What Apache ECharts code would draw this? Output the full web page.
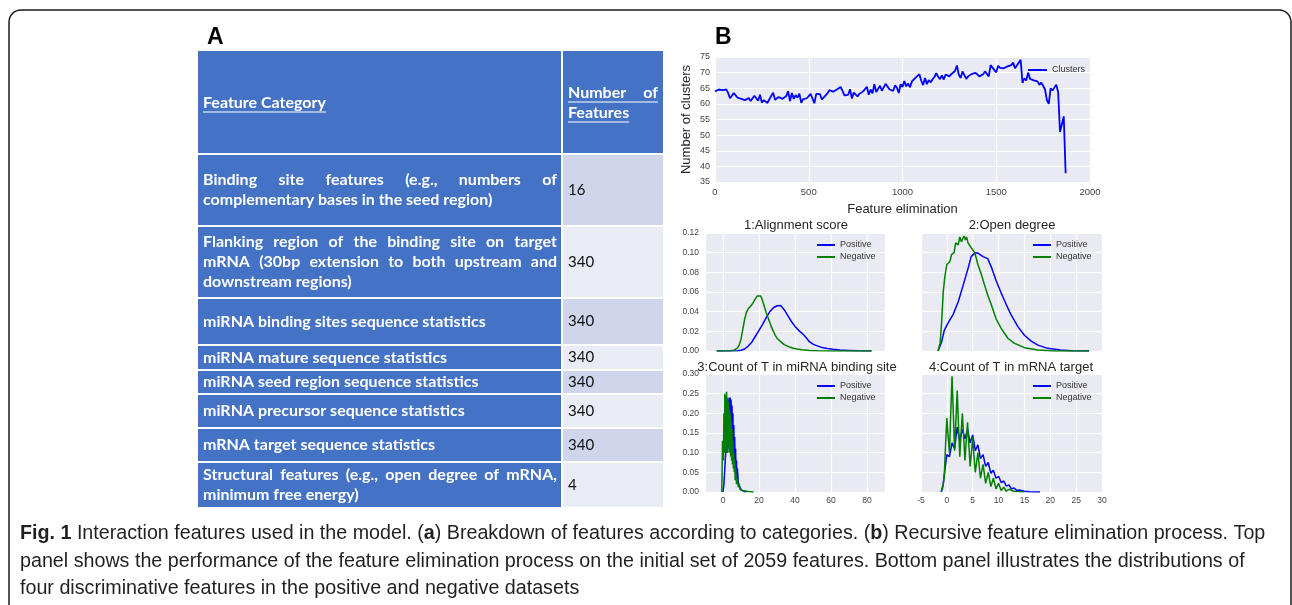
<!DOCTYPE html>
<html><head><meta charset="utf-8">
<script src="https://cdn.jsdelivr.net/npm/echarts@6/dist/echarts.min.js"></script>
<style>html,body{margin:0;padding:0;background:#fff}#c{width:1292px;height:605px}</style>
</head><body><div id="c"></div>
<script>
// ---------------- DATA ----------------
const headerCategory = 'Feature Category';
const headerCount = ['Number of', 'Features'];
const categoryLines = [
  ['Binding site features (e.g., numbers of', 'complementary bases in the seed region)'],
  ['Flanking region of the binding site on target', 'mRNA (30bp extension to both upstream and', 'downstream regions)'],
  ['miRNA binding sites sequence statistics'],
  ['miRNA mature sequence statistics'],
  ['miRNA seed region sequence statistics'],
  ['miRNA precursor sequence statistics'],
  ['mRNA target sequence statistics'],
  ['Structural features (e.g., open degree of mRNA,', 'minimum free energy)']
];
const justifiedLines = [[true, false], [true, true, false], [false], [false], [false], [false], [false], [true, false]];
const featureCounts = [16, 340, 340, 340, 340, 340, 340, 4];

// Top panel: number of clusters, one value every 10 eliminated features starting at 0
const clusterStep = 10;
const clusterValues = [
  64, 63.8, 64.6, 65, 64.4, 64.3, 64.6, 63.5, 61.8, 62.6,
  63.5, 64, 62, 61.8, 61.6, 61.3, 61.2, 61, 61.9, 60.9,
  60.6, 62.6, 62.2, 61, 62.9, 60.4, 61.2, 61.8, 60.3, 61.5,
  62, 63.6, 61.3, 61.6, 62.2, 62.8, 61.6, 61.2, 62.5, 64.1,
  60.9, 63.5, 61.6, 62.8, 62, 63.3, 60.3, 61.5, 61.2, 61.8,
  62.5, 63.2, 62.8, 60.2, 63.2, 62.9, 63.1, 61.4, 62, 62.7,
  63.4, 64.4, 64.2, 63.9, 64.3, 64.6, 64, 65.4, 64.2, 62.7,
  63.3, 62.9, 64.7, 61.7, 63.6, 63.3, 62.4, 63.2, 63.8, 64,
  64.1, 65.5, 62.9, 64.6, 63.4, 66.3, 63.8, 64.1, 65.8, 64.2,
  64.6, 66.4, 65.8, 64.7, 65.3, 64.1, 65.9, 65.2, 63.5, 66.3,
  65.4, 67.3, 65.6, 66.5, 65.3, 67.2, 66.8, 68.4, 68, 69.5,
  67.4, 66, 68.3, 66.3, 67.6, 66.9, 67.8, 68.6, 69.8, 68.7,
  67.9, 69.1, 67.8, 69.4, 70, 68.8, 69.5, 69.2, 70.5, 72.3,
  69.4, 68.3, 70.4, 69.8, 68, 68.8, 68.4, 69.6, 69.2, 69.9,
  69.5, 68.8, 68.9, 69.5, 70.4, 69.9, 68.8, 72.4, 72.3, 70.8,
  70.1, 72.2, 71.5, 71.8, 71.4, 71.2, 72, 72.1, 72.4, 73.2,
  71.4, 72.3, 72.1, 74.1, 66.7, 68.2, 67.5, 70, 68, 67.4,
  67.5, 67.3, 67.2, 66.1, 66.8, 65.8, 64.6, 61.2, 60, 65,
  64.3, 65.2, 66.1, 63.8, 51, 53.5, 56, 37.8
];

// 1: Alignment score densities [x, density]
const alignPositive = [[-3.5,0],[8,0.0002],[10,0.0008],[12,0.002],[14,0.005],[16,0.009],[18,0.015],[20,0.021],[22,0.027],[24,0.034],[26,0.04],[28,0.044],[30,0.046],[32,0.0462],[33,0.045],[34,0.042],[35,0.039],[36,0.036],[38,0.03],[40,0.025],[42,0.021],[44,0.018],[46,0.014],[48,0.0095],[50,0.007],[52,0.0055],[55,0.0035],[58,0.0025],[61,0.0017],[65,0.001],[70,0.0006],[75,0.0002],[82.5,0]];
const alignNegative = [[-3.5,0],[4,0.0002],[6,0.0008],[8,0.003],[9,0.006],[10,0.012],[11,0.022],[12,0.032],[13,0.039],[14,0.043],[15,0.045],[16,0.047],[17,0.05],[18,0.053],[19,0.056],[20,0.058],[21,0.056],[22,0.051],[23,0.045],[24,0.039],[25,0.034],[26,0.029],[27,0.024],[28,0.02],[29,0.016],[30,0.013],[31,0.011],[32,0.0095],[33,0.008],[34,0.0065],[35,0.0055],[37,0.004],[39,0.0028],[41,0.002],[44,0.0012],[48,0.0006],[53,0.0002],[60,0],[82.5,0]];

// 2: Open degree densities
const openPositive = [[-1.7,0],[-1.0,0.0095],[-0.5,0.021],[0,0.026],[0.6,0.032],[1.2,0.037],[2.2,0.05],[3.1,0.066],[4.1,0.084],[4.7,0.096],[5.5,0.1],[6,0.0996],[7,0.096],[7.9,0.094],[8.7,0.084],[9.5,0.072],[10.5,0.059],[11.5,0.047],[12.4,0.037],[13.7,0.025],[15,0.016],[16.3,0.01],[17.6,0.006],[19.5,0.0027],[22,0.001],[24,0.0003],[27.5,0]];
const openNegative = [[-1.7,0],[-1.3,0.008],[-1.0,0.03],[-0.7,0.06],[-0.4,0.075],[0,0.088],[0.6,0.091],[0.9,0.098],[1.4,0.1],[1.7,0.11],[2.2,0.108],[2.5,0.116],[2.8,0.111],[3.0,0.112],[3.3,0.117],[3.6,0.113],[3.8,0.116],[4.1,0.11],[4.7,0.105],[5.4,0.1],[6,0.088],[6.6,0.079],[7.3,0.067],[7.9,0.057],[8.6,0.047],[9.5,0.033],[10.5,0.023],[11.8,0.013],[13,0.008],[15,0.0034],[17.6,0.001],[20.8,0],[27.5,0]];

// 3: Count of T in miRNA binding site densities
const tSitePositive = [[0,0],[0.5,0.02],[1,0.06],[1.5,0.1],[2,0.15],[2.25,0.1],[2.5,0.2],[2.75,0.11],[3,0.235],[3.25,0.12],[3.5,0.24],[3.75,0.13],[4,0.24],[4.25,0.12],[4.5,0.235],[4.75,0.12],[5,0.22],[5.25,0.1],[5.5,0.2],[5.75,0.09],[6,0.17],[6.25,0.08],[6.5,0.14],[6.75,0.06],[7,0.11],[7.25,0.05],[7.5,0.08],[7.75,0.035],[8,0.06],[8.5,0.025],[9,0.03],[9.5,0.01],[10,0.012],[10.5,0.004],[11,0.003],[12,0.001],[13,0]];
const tSiteNegative = [[-0.7,0],[-0.5,0.05],[-0.25,0.13],[0,0.13],[0.25,0.08],[0.5,0.2],[0.75,0.1],[1,0.25],[1.25,0.12],[1.5,0.245],[1.75,0.1],[2,0.255],[2.25,0.12],[2.5,0.24],[2.75,0.1],[3,0.23],[3.25,0.12],[3.5,0.21],[3.75,0.1],[4,0.2],[4.25,0.09],[4.5,0.18],[4.75,0.08],[5,0.16],[5.25,0.07],[5.5,0.13],[5.75,0.06],[6,0.1],[6.25,0.05],[6.5,0.08],[6.75,0.03],[7,0.06],[7.5,0.02],[8,0.035],[8.5,0.012],[9,0.02],[9.5,0.006],[10,0.01],[11,0.004],[12,0.002],[14,0.001],[17,0]];

// 4: Count of T in mRNA target densities
const tTargetPositive = [[-1.1,0],[-0.7,0.02],[-0.4,0.055],[0,0.095],[0.5,0.09],[1,0.125],[1.5,0.11],[2,0.165],[2.5,0.13],[3,0.16],[3.5,0.135],[4,0.16],[4.5,0.125],[5,0.145],[5.5,0.105],[6,0.12],[6.5,0.085],[7,0.095],[7.5,0.065],[8,0.075],[8.5,0.048],[9,0.055],[9.5,0.035],[10,0.04],[10.5,0.024],[11,0.028],[11.5,0.015],[12,0.018],[12.5,0.008],[13,0.01],[13.5,0.004],[14,0.005],[15,0.002],[16,0.0008],[18,0]];
const tTargetNegative = [[-1.1,0],[-0.8,0.01],[-0.5,0.04],[-0.25,0.12],[0,0.188],[0.25,0.14],[0.5,0.1],[0.75,0.2],[1,0.294],[1.25,0.2],[1.5,0.105],[1.75,0.18],[2,0.258],[2.25,0.17],[2.5,0.09],[2.75,0.15],[3,0.2],[3.25,0.14],[3.5,0.08],[3.75,0.13],[4,0.177],[4.25,0.12],[4.5,0.065],[4.75,0.1],[5,0.14],[5.25,0.09],[5.5,0.05],[5.75,0.075],[6,0.1],[6.5,0.035],[7,0.07],[7.5,0.022],[8,0.05],[8.5,0.014],[9,0.035],[9.5,0.008],[10,0.022],[10.5,0.004],[11,0.012],[11.5,0.002],[12,0.007],[13,0.002],[14,0.001],[15,0]];

const panelTitles = ['1:Alignment score', '2:Open degree', '3:Count of T in miRNA binding site', '4:Count of T in mRNA target'];
const captionLines = [
  '{b|Fig. 1}{n| Interaction features used in the model. (}{b|a}{n|) Breakdown of features according to categories. (}{b|b}{n|) Recursive feature elimination process. Top}',
  '{n|panel shows the performance of the feature elimination process on the initial set of 2059 features. Bottom panel illustrates the distributions of}',
  '{n|four discriminative features in the positive and negative datasets}'
];

// ---------------- LAYOUT / STYLE ----------------
const BLUE = '#0000ff', GREEN = '#008000';
const FONT = "'Liberation Sans', Arial, sans-serif";
const cellBlue = '#4472C4', cellDark = '#CFD5EA', cellLight = '#E9EBF5';
const tableLeft = 198, tableMid = 562, tableRight = 663;
const rowBounds = [[51,153],[155,225],[227,297],[299,344],[346,369],[371,393],[395,427],[429,461],[463,507]];
const boldFont = 'bold 16px Lato';
const normFont = '15px Lato';

const mctx = document.createElement('canvas').getContext('2d');
function tw(s, font) { mctx.font = font; return mctx.measureText(s).width; }

const g = [];
// frame
g.push({type:'rect', z:0, shape:{x:9, y:10, width:1282, height:640, r:12}, style:{fill:'none', stroke:'#1a1a1a', lineWidth:1.5}});
// panel letters
g.push({type:'text', x:207, y:38, style:{text:'A', font:"bold 23px 'Liberation Sans', Arial", fill:'#000', textVerticalAlign:'middle'}});
g.push({type:'text', x:715, y:38, style:{text:'B', font:"bold 23px 'Liberation Sans', Arial", fill:'#000', textVerticalAlign:'middle'}});

function addLine(str, x, y, width, justify, font, color) {
  if (!justify) {
    g.push({type:'text', x:x, y:y, z:5, style:{text:str, font:font, fill:color, textVerticalAlign:'middle'}});
    return;
  }
  const words = str.split(' ');
  const ws = words.map(w => tw(w, font));
  const gap = (width - ws.reduce((a,b)=>a+b,0)) / (words.length - 1);
  let cx = x;
  words.forEach((w,i) => {
    g.push({type:'text', x:cx, y:y, z:5, style:{text:w, font:font, fill:color, textVerticalAlign:'middle'}});
    cx += ws[i] + gap;
  });
}
function underline(x, y, w) {
  g.push({type:'line', z:5, shape:{x1:x, y1:y, x2:x+w, y2:y}, style:{stroke:'#fff', lineWidth:1.2}});
}
// table header
const hb = rowBounds[0];
g.push({type:'rect', z:1, shape:{x:tableLeft, y:hb[0], width:tableMid-tableLeft-1, height:hb[1]-hb[0]}, style:{fill:cellBlue}});
g.push({type:'rect', z:1, shape:{x:tableMid+1, y:hb[0], width:tableRight-tableMid-1, height:hb[1]-hb[0]}, style:{fill:cellBlue}});
const hc = (hb[0]+hb[1])/2 + 1;
addLine(headerCategory, 203, hc, 0, false, boldFont, '#fff');
underline(203, hc+9, tw(headerCategory, boldFont));
addLine(headerCount[0], 568, hc-10, 90, true, boldFont, '#fff');
underline(568, hc-1, 90);
addLine(headerCount[1], 568, hc+10, 0, false, boldFont, '#fff');
underline(568, hc+19, tw(headerCount[1], boldFont));
// table rows
categoryLines.forEach((lines, r) => {
  const b = rowBounds[r+1];
  g.push({type:'rect', z:1, shape:{x:tableLeft, y:b[0], width:tableMid-tableLeft-1, height:b[1]-b[0]}, style:{fill:cellBlue}});
  g.push({type:'rect', z:1, shape:{x:tableMid+1, y:b[0], width:tableRight-tableMid-1, height:b[1]-b[0]}, style:{fill: r % 2 === 0 ? cellDark : cellLight}});
  const c = (b[0]+b[1])/2;
  lines.forEach((ln, i) => {
    addLine(ln, 203, c + (i - (lines.length-1)/2) * 20, 354, justifiedLines[r][i], boldFont, '#fff');
  });
  addLine(String(featureCounts[r]), 568, c, 0, false, normFont, '#111');
});
// panel titles
const titlePos = [[796,225],[1012,225],[797,367],[1011,367]];
panelTitles.forEach((t,i) => {
  g.push({type:'text', x:titlePos[i][0], y:titlePos[i][1], z:6, style:{text:t, font:"13px 'Liberation Sans', Arial", fill:'#262626', textAlign:'center', textVerticalAlign:'middle'}});
});
// caption
const capFam = "'Liberation Sans', Arial, sans-serif";
const capY = [534, 562, 589];
captionLines.forEach((t,i) => {
  g.push({type:'text', x:20, y:capY[i], style:{text:t, textVerticalAlign:'middle',
    rich:{b:{fontFamily:capFam, fontSize:19.7, fontWeight:'bold', fill:'#231f20'}, n:{fontFamily:capFam, fontSize:19.7, fill:'#231f20'}}}});
});

// ---------------- CHART ----------------
const gridBox = [
  {left:715, top:57, width:375, height:125},
  {left:705, top:233, width:180, height:118},
  {left:921, top:233, width:181, height:118},
  {left:705, top:374, width:180, height:118},
  {left:921, top:374, width:181, height:118}
];
const grids = gridBox.map(b => Object.assign({show:true, backgroundColor:'#EAEAF2', borderWidth:0}, b));
const split = {show:true, lineStyle:{color:'#ffffff', width:1.2}};
const plain = v => String(v);
const lab = (show, extra) => Object.assign({show:show, color:'#444', fontSize:8.5, fontFamily:FONT, formatter:plain}, extra || {});
function ax(extra) {
  return Object.assign({type:'value', axisLine:{show:false}, axisTick:{show:false}, splitLine:split}, extra);
}
const xAxes = [
  ax({gridIndex:0, min:0, max:2000, interval:500, axisLabel:lab(true,{fontSize:9.5, margin:5}),
      name:'Feature elimination', nameLocation:'middle', nameGap:21, nameTextStyle:{fontSize:13, color:'#262626', fontFamily:FONT}}),
  ax({gridIndex:1, min:-10, max:90, splitNumber:5, axisLabel:lab(false)}),
  ax({gridIndex:2, min:-5, max:30, interval:5, axisLabel:lab(false)}),
  ax({gridIndex:3, min:-10, max:90, splitNumber:5, axisLabel:lab(true,{margin:4, showMinLabel:false, showMaxLabel:false})}),
  ax({gridIndex:4, min:-5, max:30, interval:5, axisLabel:lab(true,{margin:4})})
];
const f2 = v => v.toFixed(2);
const yAxes = [
  ax({gridIndex:0, min:35, max:75, interval:5, axisLabel:lab(true,{fontSize:9, margin:5}),
      name:'Number of clusters', nameLocation:'middle', nameGap:22, nameTextStyle:{fontSize:13, color:'#262626', fontFamily:FONT}}),
  ax({gridIndex:1, min:0, max:0.12, interval:0.02, axisLabel:lab(true,{margin:6, formatter:f2})}),
  ax({gridIndex:2, min:0, max:0.12, interval:0.02, axisLabel:lab(false)}),
  ax({gridIndex:3, min:0, max:0.30, interval:0.05, axisLabel:lab(true,{margin:6, formatter:f2})}),
  ax({gridIndex:4, min:0, max:0.30, interval:0.05, axisLabel:lab(false)})
];
function line(name, idx, data, color, w, z) {
  return {type:'line', name:name, xAxisIndex:idx, yAxisIndex:idx, data:data, showSymbol:false, symbol:'none',
          lineStyle:{color:color, width:w}, itemStyle:{color:color}, z:z || 2, silent:true};
}
const series = [
  line('Clusters', 0, clusterValues.map((v,i) => [i*clusterStep, v]), BLUE, 1.8),
  line('Positive', 1, alignPositive, BLUE, 1.5), line('Negative', 1, alignNegative, GREEN, 1.5, 3),
  line('Positive', 2, openPositive, BLUE, 1.5), line('Negative', 2, openNegative, GREEN, 1.5, 3),
  line('Positive', 3, tSitePositive, BLUE, 1.5), line('Negative', 3, tSiteNegative, GREEN, 1.5, 3),
  line('Positive', 4, tTargetPositive, BLUE, 1.5), line('Negative', 4, tTargetNegative, GREEN, 1.5, 3)
];
const legBase = {orient:'vertical', icon:'rect', itemWidth:18, itemHeight:2, itemGap:2, selectedMode:false,
  textStyle:{fontSize:9, color:'#333', fontFamily:FONT, lineHeight:10}, padding:0};
const legends = [
  Object.assign({}, legBase, {data:['Clusters'], left:1028, top:65, itemWidth:19}),
  Object.assign({}, legBase, {data:['Positive','Negative'], left:817, top:240}),
  Object.assign({}, legBase, {data:['Positive','Negative'], left:1033, top:240}),
  Object.assign({}, legBase, {data:['Positive','Negative'], left:817, top:381}),
  Object.assign({}, legBase, {data:['Positive','Negative'], left:1033, top:381})
];

const chart = echarts.init(document.getElementById('c'), null, {renderer:'canvas'});
chart.setOption({
  animation:false,
  backgroundColor:'#ffffff',
  textStyle:{fontFamily:FONT},
  grid:grids, xAxis:xAxes, yAxis:yAxes, series:series, legend:legends,
  graphic:{elements:g}
});
</script></body></html>
